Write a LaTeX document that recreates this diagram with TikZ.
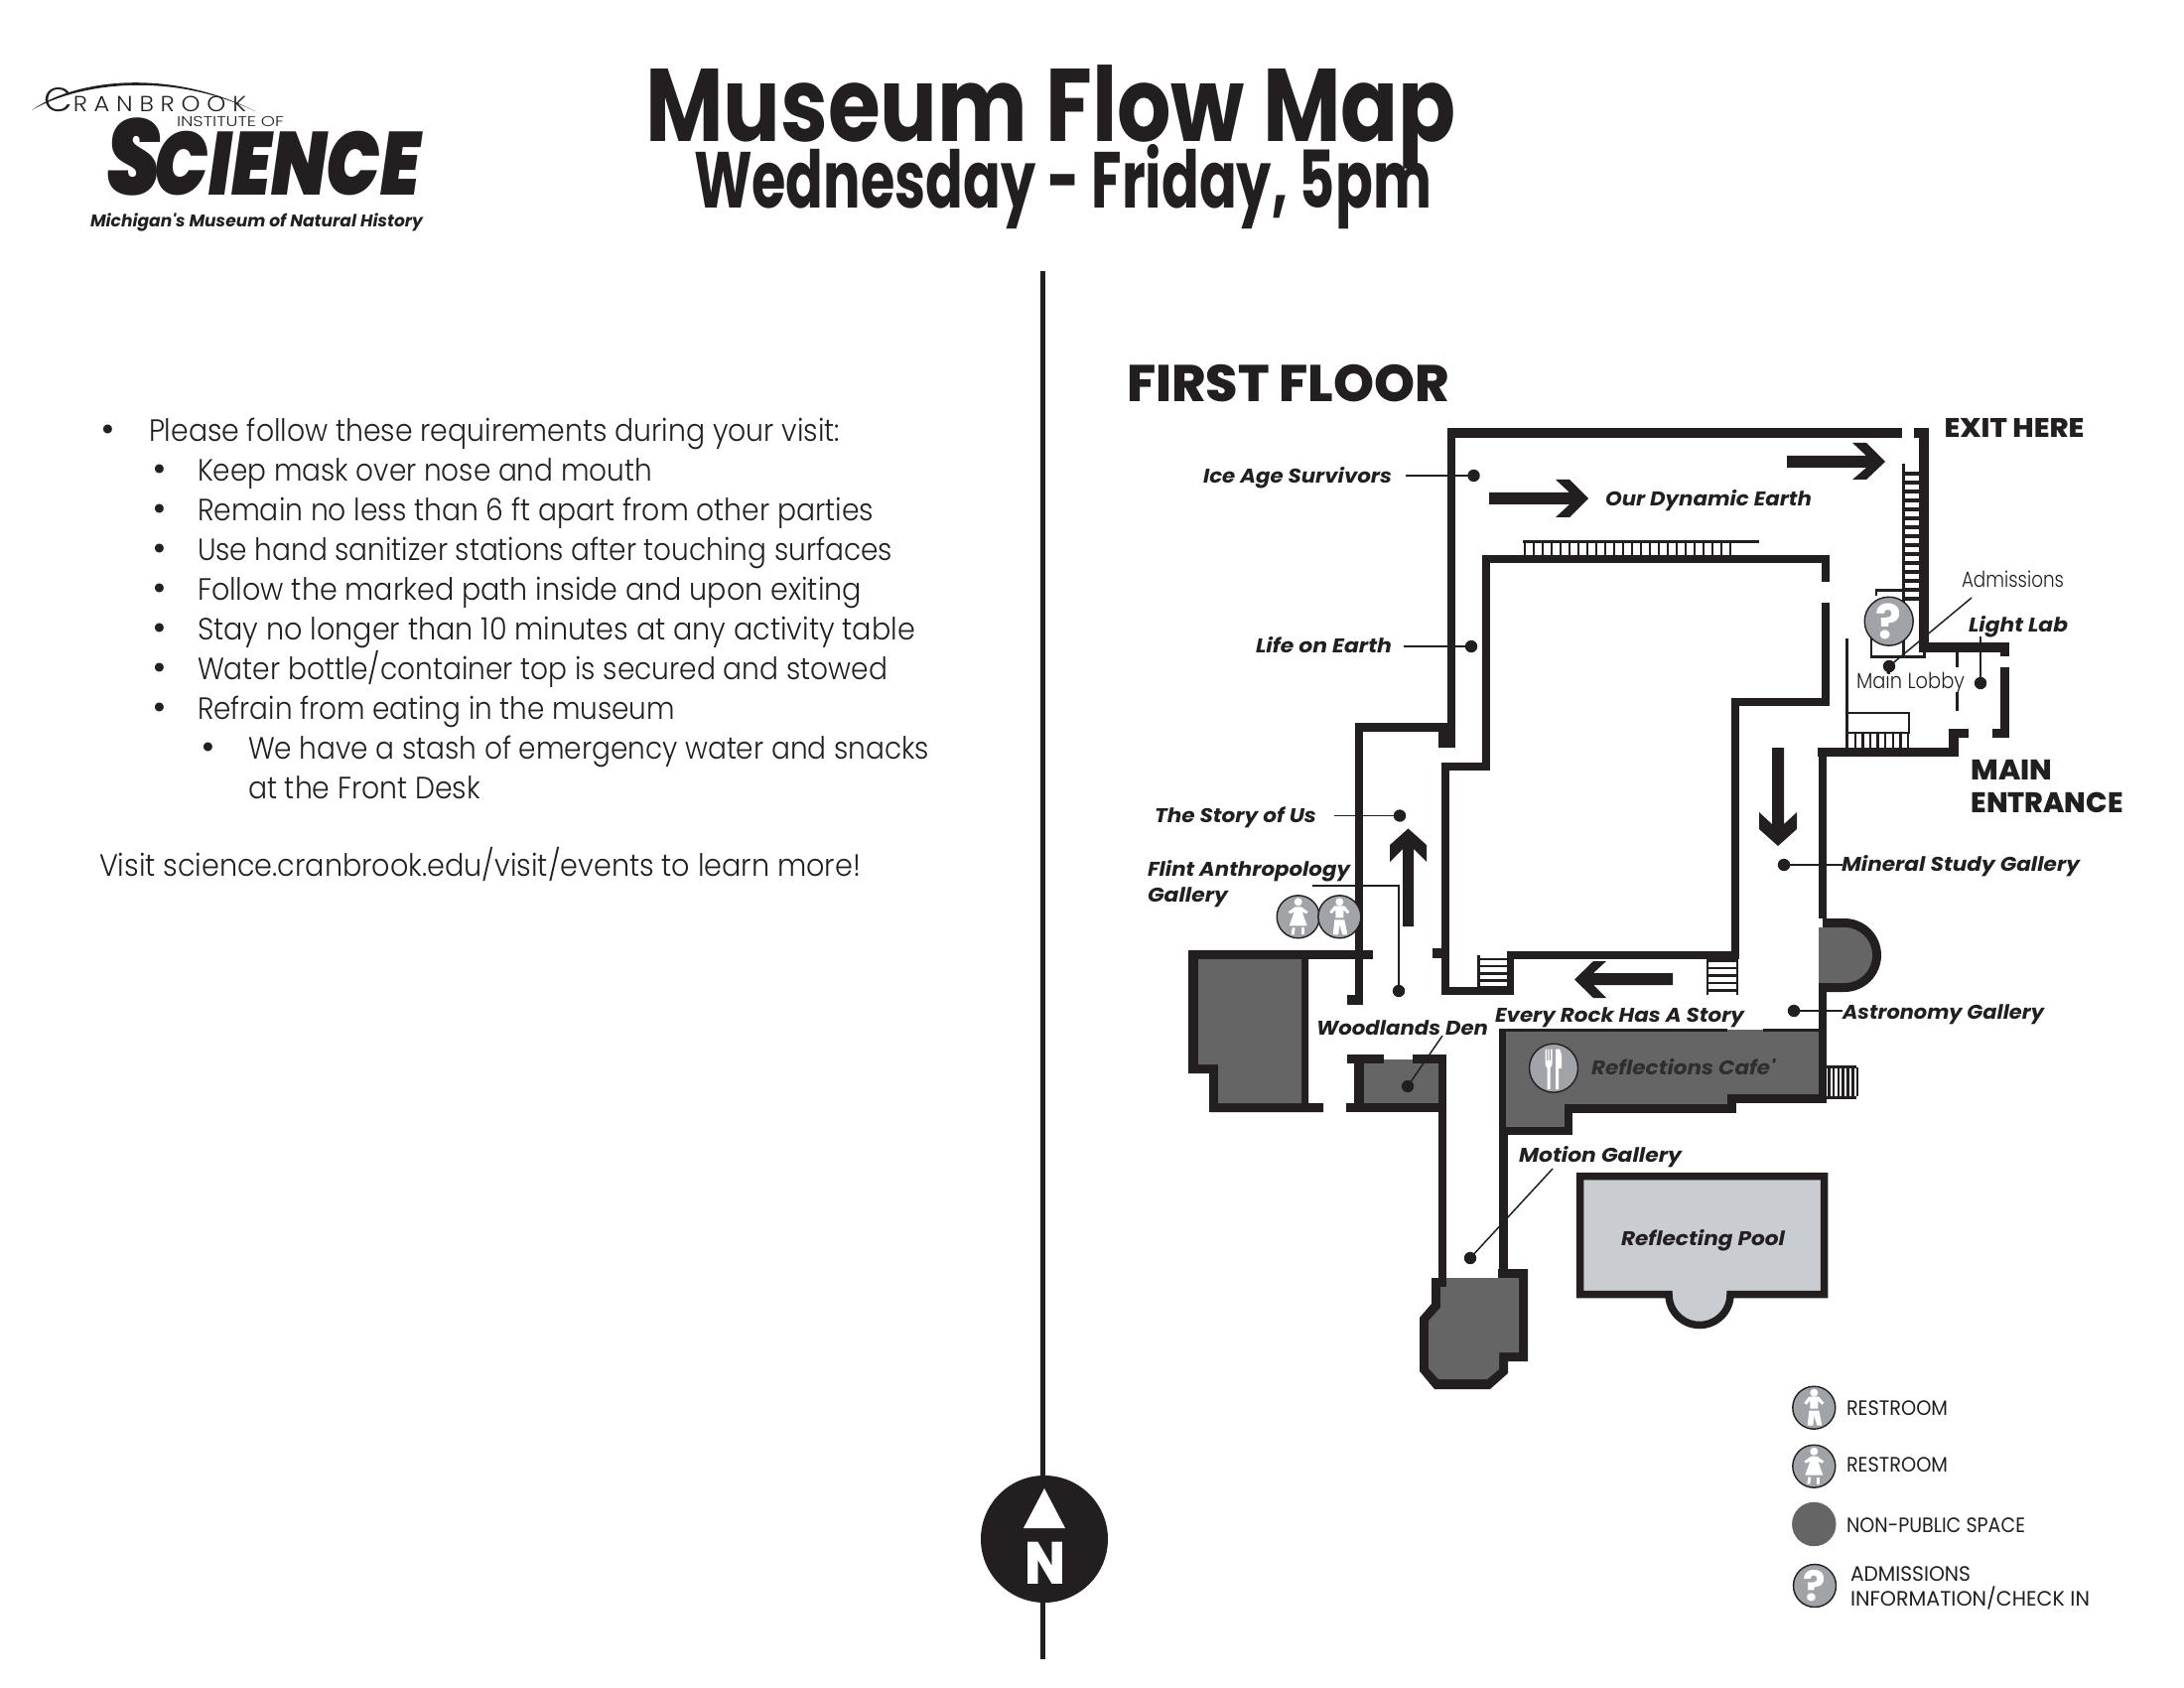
\documentclass[tikz,border=0pt]{standalone}
\usepackage{graphicx}
\usepackage{fontspec}
\setmainfont{Poppins}
\newfontfamily\fbody{Poppins}[UprightFont=* Light]
\newfontfamily\freg{Poppins}
\newfontfamily\fhead{Poppins}[UprightFont=* Bold]
\newfontfamily\fheavy{Poppins}[UprightFont=* ExtraBold]
\newfontfamily\fbi{Poppins}[UprightFont=* Bold Italic]
\newfontfamily\fsci{Poppins}[UprightFont=* Black Italic]
\newfontfamily\flogo{Poppins}[UprightFont=* Light,LetterSpace=28]
\definecolor{ink}{HTML}{231F20}
\definecolor{darkroom}{HTML}{656565}
\definecolor{pool}{HTML}{C9CCD0}
\definecolor{icon}{HTML}{A0A3A8}
\definecolor{cafetext}{HTML}{2E2E2E}
\newsavebox\lbbox
\newcommand{\fitw}[3]{\sbox\lbbox{#1#3}\pgfmathsetmacro\xsc{#2*0.5/\the\wd\lbbox}\scalebox{\xsc}[1]{\usebox\lbbox}}
\newcommand{\sz}[1]{\fontsize{#1}{#1}\selectfont}
\newcommand{\wl}[4]{\fill[ink] (#1,#2) rectangle (#3,#4);}
% text nodes: name, x, baseline y, target width, text
\newcommand{\lab}[5]{\node[lb] (#1) at (#2,#3) {\fitw{\fbi\sz{10}}{#4}{#5}};}
\newcommand{\bodyl}[5]{\node[lb] (#1) at (#2,#3) {\fitw{\fbody\sz{15.5}}{#4}{#5}};}
\newcommand{\bul}[3]{\node[lb] (#1) at (#2,#3) {\freg\sz{18}•};}
\newcommand{\manicon}[2]{\begin{scope}[shift={(#1,#2)}]
\fill[white] (0,-15) circle[radius=2pt];
\fill[white] (-5,-11)--(5,-11)--(10,-5)--(8,-3)--(4,-7)--(4,1)--(-4,1)--(-4,-7)--(-8,-3)--(-10,-5)--cycle;
\fill[white] (-5,3)--(5,3)--(8,18)--(3,18)--(0,8)--(-1,18)--(-6.5,18)--cycle;
\end{scope}}
\newcommand{\womanicon}[2]{\begin{scope}[shift={(#1,#2)}]
\fill[white] (0,-15) circle[radius=2pt];
\fill[white] (-3,-10)--(3,-10)--(10,-5)--(8,-3)--(4,-5)--(9,9)--(-9,9)--(-4,-5)--(-8,-3)--(-10,-5)--cycle;
\fill[white] (-6,11)--(-3,11)--(-4,18)--(-7,18)--cycle;
\fill[white] (3,11)--(6,11)--(6,18)--(3,18)--cycle;
\end{scope}}
\tikzset{
 lb/.style={anchor=base west,inner sep=0pt,outer sep=0pt,text=ink},
 dot/.style={circle,fill=ink,inner sep=0pt,minimum size=6.2pt},
 leader/.style={draw=ink,line width=0.75pt},
 ico/.style={circle,fill=icon,draw=ink,line width=0.7pt,inner sep=0pt,minimum size=21.5pt,text=white},
}
\begin{document}
\begin{tikzpicture}[x=0.5pt,y=-0.5pt]
\useasboundingbox (0,0) rectangle (2200,1700);
\fill[white] (0,0) rectangle (2200,1700);

% ---- titles
\node[lb] (title) at (650,143) {\fitw{\fhead\sz{52}}{817}{Museum Flow Map}};
\node[lb] (subtitle) at (699,210) {\fitw{\fhead\sz{40}}{743}{Wednesday - Friday, 5pm}};

% ---- logo
\fill[ink] (32,111) .. controls (75,80) and (170,68) .. (257,112) .. controls (170,71) and (78,84) .. cycle;
\node[lb] (cran) at (45,113) {\fitw{\flogo\sz{11}}{203}{{\sz{17}C}RANBROOK}};
\node[lb] (inst) at (178,128) {\fitw{\fbody\sz{7.2}}{108}{INSTITUTE OF}};
\node[lb] (sci) at (107,197) {\fitw{\fsci\sz{45}}{316}{{\sz{54}S}\kern-4pt CIENCE}};
\node[lb] (mich) at (91,228.5) {\fitw{\fbi\sz{8.5}}{335}{Michigan's Museum of Natural History}};

% ---- left text
\bul{b1}{101}{444.5}\bodyl{t1}{150}{444.5}{696}{Please follow these requirements during your visit:}
\bul{b2}{153}{484.5}\bodyl{t2}{199}{484.5}{458}{Keep mask over nose and mouth}
\bul{b3}{153}{524.5}\bodyl{t3}{199}{524.5}{681}{Remain no less than 6 ft apart from other parties}
\bul{b4}{153}{564.5}\bodyl{t4}{199}{564.5}{700}{Use hand sanitizer stations after touching surfaces}
\bul{b5}{153}{604.5}\bodyl{t5}{199}{604.5}{669}{Follow the marked path inside and upon exiting}
\bul{b6}{153}{644.5}\bodyl{t6}{199}{644.5}{723}{Stay no longer than 10 minutes at any activity table}
\bul{b7}{153}{684.5}\bodyl{t7}{199}{684.5}{695}{Water bottle/container top is secured and stowed}
\bul{b8}{153}{724.5}\bodyl{t8}{199}{724.5}{481}{Refrain from eating in the museum}
\bul{b9}{202}{764.5}\bodyl{t9}{250}{764.5}{686}{We have a stash of emergency water and snacks}
\bodyl{t10}{250}{804.5}{234}{at the Front Desk}
\bodyl{t11}{100}{882.5}{767}{Visit science.cranbrook.edu/visit/events to learn more!}

% ---- centre line and north mark
\fill[ink] (1047.5,273) rectangle (1052.5,1671);
\node[circle,fill=ink,inner sep=0pt,minimum size=64pt] (north) at (1052,1550) {};
\fill[white] (1052,1499)--(1073,1539)--(1031,1539)--cycle;
\node[lb,text=white] (nletter) at (1032,1595) {\fitw{\fheavy\sz{30}}{41}{N}};

% ---- floor headings
\node[lb] (ff) at (1135,404.5) {\fitw{\fheavy\sz{26}}{325}{FIRST FLOOR}};
\node[lb] (exit) at (1958.5,441) {\fitw{\fheavy\sz{13.5}}{141}{EXIT HERE}};
\node[lb] (main1) at (1985.5,785.5) {\fitw{\fheavy\sz{14.3}}{82}{MAIN}};
\node[lb] (main2) at (1985.5,818.5) {\fitw{\fheavy\sz{14.3}}{153}{ENTRANCE}};

% ---- dark rooms
% left room
\fill[ink] (1197,957)--(1318,957)--(1318,1111)--(1333,1111)--(1333,1120)--(1218,1120)--(1218,1081)--(1197,1081)--cycle;
\fill[darkroom] (1207,966)--(1311,966)--(1311,1111)--(1227,1111)--(1227,1072)--(1207,1072)--cycle;
% den
\fill[darkroom] (1374,1067) rectangle (1449,1111);
% cafe
\fill[darkroom] (1510,1037)--(1832,1037)--(1832,1105)--(1745,1105)--(1745,1115)--(1580,1115)--(1580,1137)--(1510,1137)--cycle;
% apse
\fill[ink] (1836,925)--(1858,925) .. controls (1878.4,925) and (1895,941.6) .. (1895,962) .. controls (1895,982.4) and (1878.4,999) .. (1858,999)--(1836,999)--cycle;
\fill[darkroom] (1832,934)--(1858,934) .. controls (1873.5,934) and (1886,946.5) .. (1886,962) .. controls (1886,977.5) and (1873.5,990) .. (1858,990)--(1832,990)--cycle;
% motion room
\fill[ink] (1442,1287)--(1509,1287)--(1509,1278)--(1539,1278)--(1539,1371)--(1519,1371)--(1519,1383)--(1501,1399)--(1445,1399)--(1430,1381)--(1430,1327)--(1442,1313)--cycle;
\fill[darkroom] (1451,1287)--(1530,1287)--(1530,1362)--(1510,1362)--(1510,1379)--(1498,1389)--(1449,1389)--(1439,1378)--(1439,1330)--(1451,1317)--cycle;
% pool
\draw[ink,fill=pool,line width=3.75pt,miter limit=4] (1591.5,1184.5)--(1837.5,1184.5)--(1837.5,1303.5)--(1743,1303.5) .. controls (1743,1320.6) and (1729.1,1334.5) .. (1712,1334.5) .. controls (1694.9,1334.5) and (1681,1320.6) .. (1681,1303.5)--(1591.5,1303.5)--cycle;

% ---- walls
\wl{1458}{431.5}{1915.5}{441}
\wl{1928}{431.5}{1943}{441}
\wl{1933}{431.5}{1943}{657}
\wl{1933}{647}{2024}{657}
\wl{2015}{647}{2024}{661}
\wl{2015}{672}{2024}{743}
\wl{2007}{734}{2024}{743}
\wl{1963}{734}{1983}{743}
\wl{1963}{734}{1973}{762}
\wl{1831}{753}{1973}{762}
\wl{1832}{753}{1840}{925}
\wl{1832}{990}{1840}{1111}
\wl{1458}{431.5}{1466}{753}
\wl{1449}{737}{1466}{753}
\wl{1364.5}{728}{1466}{737}
\wl{1364.5}{728}{1373}{1012}
\wl{1357}{1002}{1373}{1012}
\wl{1311}{957}{1383}{966}
\wl{1443}{955}{1459}{965}
\wl{1452}{768}{1501}{776}
\wl{1493}{559}{1501}{776}
\wl{1452}{768}{1459.5}{1002}
\wl{1452}{994}{1525}{1002}
\wl{1518}{958}{1525}{1002}
\wl{1518}{958}{1752}{966}
\wl{1744}{703}{1752}{966}
\wl{1744}{703}{1842.5}{711}
\wl{1835}{607}{1842.5}{711}
\wl{1835}{559}{1842.5}{586}
\wl{1493}{559}{1842.5}{567.5}
% cafe walls
\wl{1510}{1036}{1740}{1039}
\wl{1776}{1036}{1832}{1039}
\wl{1510}{1036}{1517}{1143}
\wl{1510}{1135}{1584}{1143}
\wl{1576}{1112}{1584}{1143}
\wl{1576}{1112}{1749}{1121}
\wl{1740}{1102}{1749}{1121}
\wl{1740}{1102}{1838}{1111}
% den walls
\wl{1357}{1062}{1394}{1071}
\wl{1423}{1062}{1457}{1071}
\wl{1364}{1062}{1374}{1120}
\wl{1356}{1111}{1457}{1120}
\wl{1449}{1062}{1457}{1296}
% motion corridor
\wl{1510}{1135}{1518.5}{1287}

% ---- stairs
% top inner stair
\fill[ink] (1534,544) rectangle (1772,547);
\foreach \i in {0,...,23} {\fill[ink] ({1535+\i*9},547) rectangle ({1537.4+\i*9},559);}
% long stair by exit
\fill[ink] (1916,467) rectangle (1918.5,660);
\foreach \i in {0,...,14} {\fill[ink] (1918,{475.5+\i*9}) rectangle (1933,{478.8+\i*9});}
% lobby box and stair
\draw[ink,line width=1.3pt] (1860,718) rectangle (1923,738);
\fill[ink] (1859,643) rectangle (1861.5,753);
\foreach \i in {0,...,8} {\fill[ink] ({1860+\i*7.6},738) rectangle ({1862.4+\i*7.6},753);}
% desk
\draw[ink,line width=1.2pt] (1890,600)--(1890,594.5)--(1917,594.5);
\draw[ink,line width=1.2pt] (1885,633)--(1885,661.5)--(1938.5,661.5)--(1938.5,650);
% lobby partition
\fill[ink] (1969.5,656) rectangle (1972.5,672);
\fill[ink] (1969.5,697) rectangle (1972.5,716);
% lower left stair
\fill[ink] (1488,962) rectangle (1490.5,995);
\foreach \i in {0,...,4} {\fill[ink] (1490,{964.5+\i*7.2}) rectangle (1518,{967.2+\i*7.2});}
% lower right stair
\fill[ink] (1719,965) rectangle (1721,1002);
\fill[ink] (1749,965) rectangle (1751,1002);
\foreach \i in {0,...,4} {\fill[ink] (1720,{966+\i*7.5}) rectangle (1750,{968.9+\i*7.5});}
% cafe side stair
\fill[ink] (1838,1073) rectangle (1870,1075.5);
\fill[ink] (1838,1103.5) rectangle (1870,1106.5);
\foreach \i in {0,...,6} {\fill[ink] ({1841+\i*4.8},1075) rectangle ({1843.6+\i*4.8},1104);}

% ---- flow arrows
\fill[ink] (1800,459)--(1880,459)--(1866,446)--(1880,446)--(1899,465)--(1880,483)--(1866,483)--(1880,471)--(1800,471)--cycle;
\fill[ink] (1500,496)--(1581,496)--(1567,483)--(1581,483)--(1600,502)--(1581,521)--(1567,521)--(1581,508)--(1500,508)--cycle;
\fill[ink] (1785,753)--(1797,753)--(1797,830)--(1810,818)--(1810,835)--(1791,852)--(1772,835)--(1772,818)--(1785,830)--cycle;
\fill[ink] (1685,980)--(1605,980)--(1618,968)--(1605,968)--(1586,986.5)--(1605,1005)--(1618,1005)--(1605,992)--(1685,992)--cycle;
\fill[ink] (1413,933)--(1424,933)--(1424,855)--(1437,868)--(1437,851)--(1418.5,834.5)--(1400,851)--(1400,868)--(1413,855)--cycle;

% ---- gallery labels
\lab{lice}{1212}{486.5}{190}{Ice Age Survivors}
\lab{learth}{1617}{510}{208}{Our Dynamic Earth}
\lab{llife}{1265}{657}{137}{Life on Earth}
\lab{lstory}{1163}{828}{163}{The Story of Us}
\lab{lflint}{1156}{882.5}{204}{Flint Anthropology}
\lab{lflint2}{1156}{908.5}{81}{Gallery}
\lab{lmin}{1855}{877}{240}{Mineral Study Gallery}
\lab{lastro}{1856}{1026}{203}{Astronomy Gallery}
\lab{lrock}{1506}{1029}{251}{Every Rock Has A Story}
\lab{lwood}{1326}{1042}{173}{Woodlands Den}
\node[lb,text=cafetext] (lcafe) at (1603,1082) {\fitw{\fbi\sz{10}}{185}{Reflections Cafe'}};
\lab{lmotion}{1530}{1170}{164}{Motion Gallery}
\lab{lpool}{1633}{1254}{165}{Reflecting Pool}
\lab{llight}{1983}{636}{100}{Light Lab}
\node[lb] (ladm) at (1976,591) {\fitw{\fbody\sz{11}}{103}{Admissions}};
\node[lb] (llobby) at (1870,693) {\fitw{\fbody\sz{11}}{109}{Main Lobby}};

% ---- dots and leaders
\node[dot] (dice) at (1484.5,479) {};
\node[dot] (dlife) at (1482,651) {};
\node[dot] (dstory) at (1410,821.5) {};
\node[dot] (dmin) at (1797,871) {};
\node[dot] (dastro) at (1807,1018) {};
\node[dot] (dflint) at (1409,998) {};
\node[dot] (dwood) at (1418,1094) {};
\node[dot] (dmotion) at (1481,1267) {};
\node[dot] (dadm) at (1903,671) {};
\node[dot] (dlight) at (1995,688) {};
\coordinate (cice) at (1416,479);
\coordinate (clife) at (1414,651);
\coordinate (cstory) at (1344,821.5);
\coordinate (cmin) at (1856,871);
\coordinate (castro) at (1856,1018);
\coordinate (cflint) at (1322,892);
\coordinate (cflintb) at (1409,892);
\coordinate (cwood) at (1453,1043);
\coordinate (cmotion) at (1564,1177);
\coordinate (cadm) at (1986,602);
\coordinate (clight) at (1995,641);
\coordinate (clobby) at (1903,679);
\draw[leader] (cice)--(dice.center);
\draw[leader] (clife)--(dlife.center);
\draw[leader] (cstory)--(dstory.center);
\draw[leader] (cmin)--(dmin.center);
\draw[leader] (castro)--(dastro.center);
\draw[leader] (cflint)--(cflintb)--(dflint.center);
\draw[leader] (cwood)--(dwood.center);
\draw[leader] (cmotion)--(dmotion.center);
\draw[leader] (clight)--(dlight.center);
\draw[leader] (dadm.center)--(clobby);

% ---- icons on map
\node[ico,minimum size=24.5pt] (qmap) at (1902.7,625.7) {};
\node[text=white,inner sep=0pt] (qmapt) at (1902.7,625.7) {\fhead\sz{24}?};
\draw[leader] (cadm)--(dadm.center);
\node[ico] (wmap) at (1307.7,923.3) {};
\womanicon{1307.7}{923.3}
\node[ico] (mmap) at (1349.3,923.3) {};
\manicon{1349.3}{923.3}
\node[ico,minimum size=24.5pt] (cafeico) at (1565,1075.7) {};
\fill[white] (1556.5,1056.5)--(1558,1056.5)--(1558,1068)--(1559.3,1068)--(1559.3,1056.5)--(1560.7,1056.5)--(1560.7,1068)--(1562,1068)--(1562,1056.5)--(1563.5,1056.5)--(1563.5,1072)--(1561.5,1076)--(1561.5,1097)--(1558.5,1097)--(1558.5,1076)--(1556.5,1072)--cycle;
\fill[white] (1567,1056.5)--(1571,1056.5)--(1573,1062)--(1573,1076)--(1570,1076)--(1570,1097)--(1567,1097)--cycle;

% ---- legend
\node[ico] (lg1) at (1827.3,1417.7) {};
\manicon{1827.3}{1417.7}
\node[ico] (lg2) at (1827.3,1476.7) {};
\womanicon{1827.3}{1476.7}
\node[ico,fill=darkroom,draw=darkroom] (lg3) at (1827.3,1535) {};
\node[ico] (lg4) at (1828,1597) {};
\node[text=white,inner sep=0pt] (lg4q) at (1828,1597) {\fhead\sz{21}?};
\node[lb] (lt1) at (1860,1425.5) {\fitw{\freg\sz{10.5}}{102}{RESTROOM}};
\node[lb] (lt2) at (1860,1482.5) {\fitw{\freg\sz{10.5}}{102}{RESTROOM}};
\node[lb] (lt3) at (1860,1543.5) {\fitw{\freg\sz{10.5}}{180}{NON-PUBLIC SPACE}};
\node[lb] (lt4) at (1864,1592.5) {\fitw{\freg\sz{10.5}}{121}{ADMISSIONS}};
\node[lb] (lt5) at (1864,1617.5) {\fitw{\freg\sz{10.5}}{241}{INFORMATION/CHECK IN}};
\end{tikzpicture}
\end{document}
